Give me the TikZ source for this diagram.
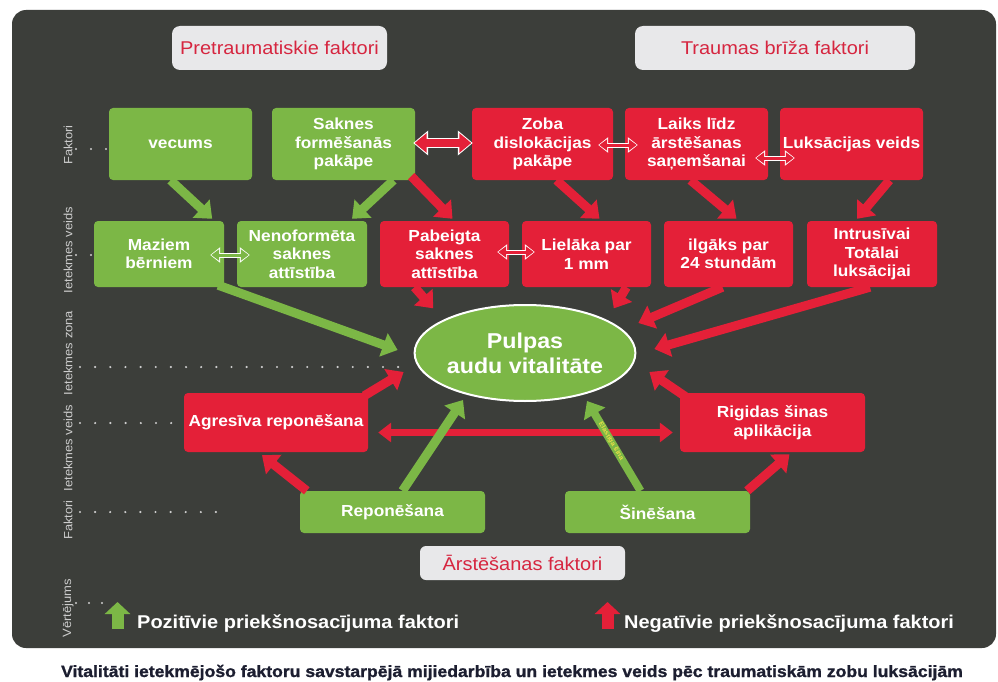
\documentclass[tikz,border=0pt]{standalone}
\usepackage{fontspec}
\setmainfont{Liberation Sans}[FakeStretch=1.08]
\newfontfamily\capfont{Liberation Sans}[FakeStretch=1.08, FakeBold=1.2]
\usetikzlibrary{arrows.meta,shapes.geometric}

\definecolor{bgdark}{RGB}{60,62,58}
\definecolor{vgreen}{RGB}{124,183,70}
\definecolor{vred}{RGB}{228,32,56}
\definecolor{hdrgray}{RGB}{232,232,234}
\definecolor{hdrred}{RGB}{214,38,64}
\definecolor{capnavy}{RGB}{28,30,48}
\definecolor{dotgray}{RGB}{205,205,205}
\definecolor{flexyellow}{RGB}{232,222,70}

\newcommand{\boxfont}{\bfseries\fontsize{16}{18.5}\selectfont}
\newcommand{\hdrfont}{\fontsize{18.5}{22}\selectfont}
\newcommand{\axfont}{\fontsize{12}{14}\selectfont}

\tikzset{
  gbox/.style={fill=vgreen, rounded corners=4pt, text=white, font=\boxfont,
    align=center, inner sep=0pt},
  rbox/.style={gbox, fill=vred},
  hdr/.style={fill=hdrgray, rounded corners=8pt, text=hdrred, font=\hdrfont, inner sep=0pt},
  axlbl/.style={rotate=90, text=dotgray, font=\axfont, inner sep=0pt},
  garrow/.style={draw=vgreen, line width=9pt, -{Triangle[length=15pt,width=24pt]}},
  rarrow/.style={garrow, draw=vred},
  dblbig/.style={draw=vred, line width=7pt, shorten <=1.5pt, shorten >=1.5pt,
    {Triangle[length=12pt,width=19pt]}-{Triangle[length=12pt,width=19pt]},
    preaction={draw=white, line width=9pt, shorten <=0pt, shorten >=0pt,
      {Triangle[length=15pt,width=24pt]}-{Triangle[length=15pt,width=24pt]}}},
  dblred/.style={draw=vred, line width=3pt, shorten <=1pt, shorten >=1pt,
    {Triangle[length=8pt,width=11pt]}-{Triangle[length=8pt,width=11pt]},
    preaction={draw=white, line width=5pt, shorten <=0pt, shorten >=0pt,
      {Triangle[length=10pt,width=15pt]}-{Triangle[length=10pt,width=15pt]}}},
  dblgreen/.style={dblred, draw=vgreen},
  legend/.style={text=white, font=\bfseries\fontsize{18.5}{22}\selectfont, inner sep=0pt},
}

\begin{document}
\begin{tikzpicture}[x=1pt,y=-1pt]
\fill[white] (0,0) rectangle (998,682);
\useasboundingbox (0,0) rectangle (998,682);
\fill[bgdark, rounded corners=14pt] (12,10) rectangle (996,648);

% group headers
\node[hdr, minimum width=215pt, minimum height=44pt] (pretr) at (279.5,48) {Pretraumatiskie faktori};
\node[hdr, minimum width=280pt, minimum height=44pt] (traumas) at (775,48) {Traumas brīža faktori};
\node[hdr, minimum width=205pt, minimum height=34pt, rounded corners=6pt] (arst) at (522.5,563) {Ārstēšanas faktori};

% level labels
\node[axlbl] (axfakt) at (68,145) {Faktori};
\node[axlbl] (axveids) at (68,250) {Ietekmes veids};
\node[axlbl] (axzona) at (68,353) {Ietekmes zona};
\node[axlbl] (axveidsb) at (68,448) {Ietekmes veids};
\node[axlbl] (axfaktb) at (68,520) {Faktori};
\node[axlbl] (axvert) at (68,608) {Vērtējums};
\foreach \i in {0,...,2} \fill[dotgray] (76+\i*15,149) circle (1.2pt);
\foreach \i in {0,...,1} \fill[dotgray] (76+\i*15,255) circle (1.2pt);
\foreach \i in {0,...,21} \fill[dotgray] (80+\i*15.15,367) circle (1.2pt);
\foreach \i in {0,...,6} \fill[dotgray] (80+\i*15.2,423) circle (1.2pt);
\foreach \i in {0,...,9} \fill[dotgray] (80+\i*15.1,512) circle (1.2pt);
\foreach \i in {0,...,2} \fill[dotgray] (76+\i*13,603) circle (1.2pt);

% factors
\node[gbox, minimum width=143pt, minimum height=72pt] (vecums) at (180.5,144) {vecums};
\node[gbox, minimum width=143pt, minimum height=72pt] (saknes) at (343.5,144) {Saknes\\formēšanās\\pakāpe};
\node[rbox, minimum width=141pt, minimum height=72pt] (zoba) at (542.5,144) {Zoba\\dislokācijas\\pakāpe};
\node[rbox, minimum width=143pt, minimum height=72pt] (laiks) at (696.5,144) {Laiks līdz\\ārstēšanas\\saņemšanai};
\node[rbox, minimum width=143pt, minimum height=72pt] (luks) at (851.5,144) {Luksācijas veids};

% influence type
\node[gbox, minimum width=130pt, minimum height=66pt] (maziem) at (159,254) {Maziem\\bērniem};
\node[gbox, minimum width=130pt, minimum height=66pt] (nenof) at (302,254) {Nenoformēta\\saknes\\attīstība};
\node[rbox, minimum width=129pt, minimum height=66pt] (pabeigta) at (444.5,254) {Pabeigta\\saknes\\attīstība};
\node[rbox, minimum width=129pt, minimum height=66pt] (lielaka) at (586.5,254) {Lielāka par\\1 mm};
\node[rbox, minimum width=129pt, minimum height=66pt] (ilgaks) at (728.5,254) {ilgāks par\\24 stundām};
\node[rbox, minimum width=130pt, minimum height=66pt] (intrus) at (872,254) {Intrusīvai\\Totālai\\luksācijai};

% zone
\node[ellipse, fill=vgreen, draw=white, line width=2pt, minimum width=194pt, minimum height=96pt,
  inner sep=0pt, text=white, align=center, font=\bfseries\fontsize{21.5}{25}\selectfont] (pulpa) at (525,353) {Pulpas\\audu vitalitāte};

% treatment
\node[rbox, minimum width=184pt, minimum height=59pt] (agres) at (276,422.5) {Agresīva reponēšana};
\node[rbox, minimum width=185pt, minimum height=59pt] (rigid) at (772.5,422.5) {Rigidas šinas\\aplikācija};
\node[gbox, minimum width=185pt, minimum height=42pt] (repon) at (392.5,512) {Reponēšana};
\node[gbox, minimum width=185pt, minimum height=42pt] (sines) at (657.5,512) {Šinēšana};

% negative arrows
\draw[draw=vred, line width=7pt, {Triangle[length=13pt,width=19pt]}-{Triangle[length=13pt,width=19pt]}]
  ([xshift=10pt,yshift=-10pt]agres.east) -- ([xshift=-7pt,yshift=-10pt]rigid.west);
\draw[rarrow] ([xshift=-4pt,yshift=4pt]saknes.south east) -- ([xshift=8pt,yshift=2pt]pabeigta.north);
\draw[rarrow] ([xshift=14pt]zoba.south) -- ([xshift=13pt,yshift=2pt]lielaka.north);
\draw[rarrow] ([xshift=-6pt]laiks.south) -- ([xshift=8pt,yshift=2pt]ilgaks.north);
\draw[rarrow] ([xshift=38pt]luks.south) -- ([xshift=-15pt,yshift=2pt]intrus.north);
\draw[rarrow] ([xshift=-30pt]pabeigta.south) -- ([xshift=-13pt,yshift=10pt]pulpa.north west);
\draw[rarrow] ([xshift=40pt]lielaka.south) -- ([xshift=10pt,yshift=10pt]pulpa.north east);
\draw[rarrow] ([xshift=-6pt]ilgaks.south) -- ([xshift=2pt,yshift=30pt]pulpa.east);
\draw[rarrow] ([xshift=-2pt]intrus.south) -- ([xshift=18pt,yshift=4pt]pulpa.east);
\draw[rarrow] ([xshift=-4pt,yshift=-3pt]agres.north east) -- ([xshift=-10pt,yshift=-19pt]pulpa.west);
\draw[rarrow] ([xshift=6pt,yshift=-4pt]rigid.north west) -- ([xshift=13pt,yshift=-19pt]pulpa.east);
\draw[rarrow] ([xshift=7pt]repon.north west) -- ([xshift=-14pt,yshift=-3pt]agres.south);
\draw[rarrow] ([xshift=-3pt]sines.north east) -- ([xshift=17pt,yshift=-2pt]rigid.south);

% positive arrows
\draw[garrow] ([xshift=-10pt]vecums.south) -- ([xshift=-12pt,yshift=2pt]maziem.north east);
\draw[garrow] ([xshift=50pt]saknes.south) -- ([xshift=50pt,yshift=2pt]nenof.north);
\draw[garrow] ([xshift=-6pt,yshift=2pt]maziem.south east) -- ([xshift=-16pt,yshift=3pt]pulpa.west);
\draw[garrow] ([xshift=10pt]repon.north) -- ([xshift=-62pt,yshift=2pt]pulpa.south);
\draw[garrow, line width=8pt] ([xshift=-17pt]sines.north) -- node[sloped, pos=0.55, text=flexyellow,
  font=\bfseries\fontsize{6.5}{7}\selectfont, inner sep=0pt] {Elastīga šīna} ([xshift=62pt,yshift=1pt]pulpa.south);

% interactions
\draw[dblbig] ([xshift=-2pt,yshift=1pt]saknes.east) -- ([xshift=1pt,yshift=1pt]zoba.west);
\draw[dblred] ([xshift=-15pt,yshift=-1pt]zoba.east) -- ([xshift=13pt,yshift=-1pt]laiks.west);
\draw[dblred] ([xshift=-13pt,yshift=-14pt]laiks.east) -- ([xshift=15pt,yshift=-14pt]luks.west);
\draw[dblred] ([xshift=-12pt,yshift=2pt]pabeigta.east) -- ([xshift=13pt,yshift=2pt]lielaka.west);
\draw[dblgreen] ([xshift=-14pt,yshift=-1pt]maziem.east) -- ([xshift=13pt,yshift=-1pt]nenof.west);

% legend
\coordinate (posTail) at (117.5,629);
\coordinate (posTip) at (117.5,602);
\coordinate (negTail) at (607.5,629);
\coordinate (negTip) at (607.5,602);
\draw[garrow, line width=12pt, -{Triangle[length=12pt,width=25pt]}] (posTail) -- (posTip);
\draw[rarrow, line width=12pt, -{Triangle[length=12pt,width=25pt]}] (negTail) -- (negTip);
\node[legend, anchor=base west] (poslbl) at (137,628) {Pozitīvie priekšnosacījuma faktori};
\node[legend, anchor=base west] (neglbl) at (624,628) {Negatīvie priekšnosacījuma faktori};

% caption
\node[text=capnavy, font=\capfont\bfseries\fontsize{16.3}{18}\selectfont, inner sep=0pt, anchor=base] (caption) at (512,677)
  {Vitalitāti ietekmējošo faktoru savstarpējā mijiedarbība un ietekmes veids pēc traumatiskām zobu luksācijām};
\end{tikzpicture}
\end{document}
